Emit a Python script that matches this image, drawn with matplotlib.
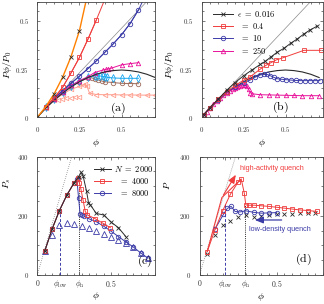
import matplotlib
matplotlib.use('Agg')
import matplotlib.pyplot as plt
from matplotlib.ticker import MultipleLocator

plt.rcParams['mathtext.fontset'] = 'cm'
plt.rcParams['font.family'] = 'serif'
plt.rcParams['font.serif'] = ['DejaVu Serif']

# ---------- panel (a) ----------
a_orange_x = [0, 0.05, 0.1, 0.15, 0.2, 0.25, 0.3]
a_orange_y = [0, 0.055, 0.122, 0.207, 0.314, 0.449, 0.645]
a_cross_x = [0, 0.1, 0.15, 0.2, 0.25]
a_cross_y = [0, 0.122, 0.207, 0.314, 0.449]
a_red_x = [0.05, 0.1, 0.15, 0.2, 0.25, 0.3, 0.35, 0.4]
a_red_y = [0.055, 0.1, 0.155, 0.23, 0.31, 0.404, 0.504, 0.61]
a_blue_x = [0.05, 0.1, 0.15, 0.2, 0.25, 0.3, 0.35, 0.4, 0.45, 0.5, 0.55, 0.6, 0.63]
a_blue_y = [0.055, 0.1, 0.138, 0.176, 0.213, 0.252, 0.292, 0.336, 0.38, 0.428, 0.485, 0.556, 0.61]
a_mag_x = [0.05, 0.1, 0.15, 0.2, 0.25, 0.3, 0.34, 0.39, 0.405, 0.42, 0.437, 0.5, 0.55, 0.6]
a_mag_y = [0.052, 0.095, 0.133, 0.165, 0.19, 0.21, 0.232, 0.245, 0.248, 0.25, 0.254, 0.272, 0.278, 0.283]
a_cyan_x = [0.05, 0.1, 0.15, 0.2, 0.25, 0.3, 0.342, 0.356, 0.372, 0.388, 0.401, 0.415, 0.45, 0.5, 0.55, 0.6]
a_cyan_y = [0.052, 0.094, 0.132, 0.163, 0.188, 0.207, 0.216, 0.215, 0.214, 0.212, 0.21, 0.207, 0.204, 0.202, 0.202, 0.202]
a_brown_x = [0.05, 0.1, 0.15, 0.2, 0.25, 0.3, 0.322, 0.342, 0.362, 0.382, 0.401, 0.45, 0.5, 0.55, 0.6]
a_brown_y = [0.052, 0.093, 0.13, 0.16, 0.185, 0.203, 0.205, 0.198, 0.193, 0.188, 0.184, 0.18, 0.176, 0.175, 0.174]
a_salmon_x = [0.05, 0.1, 0.15, 0.2, 0.25, 0.27, 0.285, 0.295, 0.31, 0.35, 0.4, 0.45, 0.5, 0.55, 0.6, 0.65, 0.7]
a_salmon_y = [0.05, 0.088, 0.12, 0.145, 0.16, 0.165, 0.172, 0.16, 0.125, 0.118, 0.117, 0.117, 0.116, 0.116, 0.115, 0.115, 0.115]
a_salmon2_x = [0.12, 0.146, 0.172, 0.198, 0.224, 0.25]
a_salmon2_y = [0.092, 0.096, 0.098, 0.1, 0.103, 0.106]
curve_x = [0, 0.05, 0.1, 0.15, 0.2, 0.25, 0.3, 0.35, 0.4, 0.45, 0.5, 0.55, 0.6, 0.65, 0.7]
curve_y = [0, 0.047, 0.088, 0.125, 0.157, 0.184, 0.206, 0.223, 0.235, 0.242, 0.245, 0.242, 0.235, 0.223, 0.206]
thin_x = [0, 0.72]
thin_y = [0, 0.665]

# ---------- panel (b) ----------
b_eps_labels = [r'$\epsilon\ =\ 0.016$', r'$\;\,=\ 0.4$', r'$\;\,=\ 10$', r'$\;\,=\ 250$']
b_k_x = [0.013, 0.05, 0.1, 0.15, 0.2, 0.25, 0.3, 0.35, 0.38, 0.415, 0.45, 0.49, 0.53, 0.57, 0.61, 0.645, 0.69]
b_k_y = [0.013, 0.05, 0.095, 0.14, 0.18, 0.215, 0.245, 0.274, 0.29, 0.314, 0.337, 0.357, 0.383, 0.406, 0.432, 0.452, 0.473]
b_r_x = [0.013, 0.05, 0.1, 0.15, 0.2, 0.25, 0.29, 0.35, 0.385, 0.413, 0.444, 0.483, 0.61, 0.71]
b_r_y = [0.013, 0.05, 0.093, 0.133, 0.165, 0.192, 0.21, 0.25, 0.27, 0.283, 0.297, 0.308, 0.347, 0.347]
b_b_x = [0.013, 0.05, 0.1, 0.15, 0.2, 0.25, 0.29, 0.318, 0.348, 0.37, 0.39, 0.41, 0.43, 0.45, 0.477, 0.5,
         0.53, 0.56, 0.586, 0.615, 0.646, 0.675, 0.705]
b_b_y = [0.013, 0.05, 0.092, 0.13, 0.158, 0.178, 0.193, 0.207, 0.219, 0.222, 0.222, 0.215, 0.207, 0.2, 0.197,
         0.195, 0.193, 0.191, 0.19, 0.19, 0.19, 0.19, 0.19]
b_m_x = [0.013, 0.03, 0.05, 0.07, 0.09, 0.11, 0.13, 0.15, 0.17, 0.19, 0.2, 0.21, 0.22, 0.23, 0.24, 0.25,
         0.26, 0.27, 0.28, 0.29, 0.3, 0.35, 0.4, 0.45, 0.5, 0.55, 0.6, 0.65, 0.7]
b_m_y = [0.013, 0.03, 0.05, 0.068, 0.085, 0.1, 0.113, 0.125, 0.137, 0.147, 0.152, 0.156, 0.16, 0.164, 0.167,
         0.168, 0.166, 0.16, 0.145, 0.128, 0.122, 0.117, 0.116, 0.115, 0.114, 0.113, 0.112, 0.112, 0.112]

# ---------- panel (c) ----------
c_N_labels = [r'$N\ =\ 2000$', r'$\;\;\,=\ 4000$', r'$\;\;\,=\ 8000$']
c_2000_x = [0.05, 0.1, 0.15, 0.2, 0.25, 0.28, 0.297, 0.31, 0.334, 0.347, 0.36, 0.4, 0.45, 0.5, 0.55, 0.6]
c_2000_y = [80, 155, 218, 270, 312, 332, 347, 336, 283, 245, 237, 208, 203, 179, 160, 130]
c_4000_x = [0.05, 0.1, 0.15, 0.2, 0.25, 0.275, 0.285, 0.295, 0.31, 0.325, 0.34, 0.39, 0.445, 0.495]
c_4000_y = [80, 155, 218, 270, 312, 328, 312, 292, 254, 215, 203, 191, 175, 160]
c_8000_x = [0.05, 0.1, 0.15, 0.2, 0.25, 0.268, 0.28, 0.29, 0.3, 0.32, 0.35, 0.4, 0.45, 0.5, 0.55, 0.6, 0.65, 0.7, 0.75]
c_8000_y = [80, 155, 218, 270, 312, 324, 260, 207, 203, 198, 190, 180, 165, 148, 130, 112, 95, 75, 57]
c_tri_x = [0.05, 0.1, 0.15, 0.2, 0.25, 0.3, 0.35, 0.4, 0.45, 0.5, 0.55, 0.6, 0.65, 0.7, 0.75]
c_tri_y = [80, 136, 168, 176, 173, 167, 160, 150, 140, 130, 120, 107, 93, 75, 57]
c_phi_low, c_phi_n = 0.155, 0.286
c_low_top, c_n_top = 218, 338
dot_x = [0, 0.25]
dot_y = [0, 429]

# ---------- panel (d) ----------
d_red_x = [0.05, 0.1, 0.15, 0.2, 0.25, 0.27, 0.29, 0.3, 0.32, 0.355, 0.4, 0.45, 0.5, 0.55, 0.6, 0.65, 0.7, 0.76]
d_red_y = [79, 153, 217, 273, 314, 325, 277, 237, 236, 236, 234, 232, 229, 226, 223, 220, 218, 215]
d_blue_x = [0.1, 0.155, 0.18, 0.205, 0.23, 0.26, 0.3, 0.35, 0.4, 0.45, 0.5]
d_blue_y = [155, 205, 225, 232, 215, 213, 217, 212, 209, 210, 211]
d_k_x = [0.05, 0.1, 0.15, 0.2, 0.25, 0.3, 0.35, 0.4, 0.45, 0.5, 0.55, 0.6, 0.65, 0.7, 0.75]
d_k_y = [72, 134, 168, 183, 197, 202, 197, 200, 202, 205, 207, 207, 209, 208, 210]
d_path_x = [0.05, 0.145, 0.265]
d_path_y = [79, 262, 322]
d_hi_arrow = ((0.145, 262), (0.245, 347))
d_lo_arrow = ((0.55, 186), (0.34, 186))
d_phi_low, d_phi_n = 0.167, 0.297
d_low_top, d_n_top = 240, 238

orange = '#ff8000'
red = '#f03c3c'
blue = '#3c3ca8'
mag = '#e8129a'
cyan = '#1aa8f0'
brown = '#9c6b5b'
salmon = '#ff9e8e'
dark = '#2a2a2a'
thin = '#8a8a8a'

lw = 0.7
ms = 3.2
mew = 0.6
tick_fs = 5.0


def style(ax, xmaj, xlabs, ymaj, ylabs, xmin, ymin, xpad):
    ax.set_xticks(xmaj)
    ax.set_xticklabels(xlabs)
    ax.set_yticks(ymaj)
    ax.set_yticklabels(ylabs)
    ax.xaxis.set_minor_locator(MultipleLocator(xmin))
    ax.yaxis.set_minor_locator(MultipleLocator(ymin))
    ax.tick_params(which='both', direction='in', top=True, right=True,
                   labelsize=tick_fs, width=0.45, colors='#333333')
    ax.tick_params(which='major', length=2.4)
    ax.tick_params(which='minor', length=1.4)
    ax.tick_params(axis='x', pad=xpad)
    ax.tick_params(axis='y', pad=6.0)
    for s in ax.spines.values():
        s.set_linewidth(0.6)
        s.set_color('#444444')


def ser(ax, x, y, c, m, line=True, size=ms, **kw):
    ax.plot(x, y, color=c, lw=lw if line else 0, marker=m, ms=size,
            mfc='none', mec=c, mew=mew, **kw)


fig = plt.figure(figsize=(3.24, 3.04), dpi=100)
W, H = 324.0, 304.0
ax_a = fig.add_axes([37.3 / W, 1 - 117.3 / H, 118 / W, 115.8 / H])
ax_b = fig.add_axes([201.5 / W, 1 - 117.3 / H, 121 / W, 115.8 / H])
ax_c = fig.add_axes([37.3 / W, 1 - 275 / H, 118 / W, 118.3 / H])
ax_d = fig.add_axes([199.5 / W, 1 - 275 / H, 123.5 / W, 118.3 / H])

# (a)
ax = ax_a
ax.plot(thin_x, thin_y, color=thin, lw=0.5)
ser(ax, a_salmon_x, a_salmon_y, salmon, '<')
ser(ax, a_salmon2_x, a_salmon2_y, salmon, '<', line=False)
ser(ax, a_brown_x, a_brown_y, brown, 'o')
ser(ax, a_cyan_x, a_cyan_y, cyan, 'd', size=3.6)
ser(ax, a_mag_x, a_mag_y, mag, '^')
ax.plot(curve_x, curve_y, color=dark, lw=0.8)
ser(ax, a_blue_x[:-1], a_blue_y[:-1], blue, 'o')
ax.plot(a_blue_x, a_blue_y, color=blue, lw=lw)
ser(ax, a_red_x[:-1], a_red_y[:-1], red, 's')
ax.plot(a_red_x, a_red_y, color=red, lw=lw)
ax.plot(a_orange_x, a_orange_y, color=orange, lw=1.0)
ax.plot(a_cross_x, a_cross_y, ls='none', marker='x', ms=ms, mew=mew, color=dark)
ax.set_xlim(0, 0.7)
ax.set_ylim(0, 0.6)
style(ax, [0, 0.25, 0.5], [r'$0$', r'$0.25$', r'$0.5$'],
      [0, 0.25, 0.5], [r'$0$', r'$0.25$', r'$0.5$'], 0.05, 0.05, 5.5)
ax.text(0.684, 0.08, r'$\mathrm{(a)}$', transform=ax.transAxes, fontsize=8.5, ha='center', va='center')

# (b)
ax = ax_b
ax.plot(thin_x, thin_y, color=thin, lw=0.5)
ax.plot(curve_x, curve_y, color=dark, lw=0.8)
ser(ax, b_m_x, b_m_y, mag, '^', label=b_eps_labels[3])
ser(ax, b_b_x, b_b_y, blue, 'o', label=b_eps_labels[2])
ser(ax, b_r_x, b_r_y, red, 's', label=b_eps_labels[1])
ser(ax, b_k_x, b_k_y, dark, 'x', label=b_eps_labels[0])
ax.set_xlim(0, 0.72)
ax.set_ylim(0, 0.6)
style(ax, [0, 0.25, 0.5], [r'$0$', r'$0.25$', r'$0.5$'],
      [0, 0.25, 0.5], [r'$0$', r'$0.25$', r'$0.5$'], 0.05, 0.05, 5.5)
h, l = ax.get_legend_handles_labels()
ax.legend(h[::-1], l[::-1], loc='upper left', bbox_to_anchor=(0.04, 1.0), frameon=False,
          fontsize=6, handlelength=2.4, handletextpad=0.4, labelspacing=0.25, borderpad=0.35)
ax.text(0.649, 0.085, r'$\mathrm{(b)}$', transform=ax.transAxes, fontsize=8.5, ha='center', va='center')

for ax in (ax_a, ax_b):
    ax.set_xlabel(r'$\phi$', fontsize=7)
    ax.set_ylabel(r'$P\phi/P_0$', fontsize=7)
    ax.xaxis.label.set_va('center')
    ax.yaxis.label.set_va('center')
    ax.xaxis.set_label_coords(0.5, -0.225)
ax_a.yaxis.set_label_coords(-0.255, 0.45)
ax_b.yaxis.set_label_coords(-0.265, 0.45)

# (c)
ax = ax_c
ax.plot(dot_x, dot_y, color=thin, lw=0.6, ls=(0, (1, 1.5)))
ax.plot([c_phi_low, c_phi_low], [0, c_low_top], color=blue, lw=0.7, ls=(0, (3, 2)))
ax.plot([c_phi_n, c_phi_n], [0, c_n_top], color=dark, lw=0.7, ls=(0, (1, 1.2)))
ser(ax, c_tri_x, c_tri_y, blue, '^', line=False, size=4.4)
ser(ax, c_8000_x, c_8000_y, blue, 'o', label=c_N_labels[2])
ser(ax, c_4000_x, c_4000_y, red, 's', label=c_N_labels[1])
ser(ax, c_2000_x, c_2000_y, dark, 'x', label=c_N_labels[0])
ax.set_xlim(0, 0.8)
ax.set_ylim(0, 400)
style(ax, [0, c_phi_low, c_phi_n, 0.5], [r'$0$', r'$\phi_{\rm low}$', r'$\phi_{\rm n}$', r'$0.5$'],
      [0, 200, 400], [r'$0$', r'$200$', r'$400$'], 0.05, 50, 2.5)
ax.tick_params(axis='x', labelsize=5.6)
h, l = ax.get_legend_handles_labels()
ax.legend(h[::-1], l[::-1], loc='upper left', bbox_to_anchor=(0.42, 1.0), frameon=False,
          fontsize=6, handlelength=2.0, handletextpad=0.4, labelspacing=0.25, borderpad=0.35)
ax.text(0.913, 0.115, r'$\mathrm{(c)}$', transform=ax.transAxes, fontsize=8.5, ha='center', va='center')
ax.set_ylabel(r'$P_s$', fontsize=7)

# (d)
ax = ax_d
ax.plot(dot_x, dot_y, color=thin, lw=0.6, ls=(0, (1, 1.5)))
ax.plot([d_phi_low, d_phi_low], [0, d_low_top], color=blue, lw=0.7, ls=(0, (3, 2)))
ax.plot([d_phi_n, d_phi_n], [0, d_n_top], color=dark, lw=0.7, ls=(0, (1, 1.2)))
ser(ax, d_k_x, d_k_y, dark, 'x', line=False)
ax.plot(d_path_x, d_path_y, color=red, lw=0.8)
ax.annotate('', xy=d_hi_arrow[1], xytext=d_hi_arrow[0],
            arrowprops=dict(arrowstyle='-|>,head_length=0.5,head_width=0.2', color=red, lw=0.8))
ser(ax, d_blue_x, d_blue_y, blue, 'o')
ser(ax, d_red_x, d_red_y, red, 's', size=3.5)
ax.annotate('', xy=d_lo_arrow[1], xytext=d_lo_arrow[0],
            arrowprops=dict(arrowstyle='-|>,head_length=0.5,head_width=0.2', color=blue, lw=0.9))
ax.text(0.262, 360, 'high-activity quench', color=red, fontsize=5.2, family='Liberation Sans',
        ha='left', va='center')
ax.text(0.318, 155, 'low-density quench', color=blue, fontsize=5.2, family='Liberation Sans',
        ha='left', va='center')
ax.set_xlim(0, 0.8)
ax.set_ylim(0, 400)
style(ax, [0, d_phi_low, d_phi_n, 0.5], [r'$0$', r'$\phi_{\rm low}$', r'$\phi_{\rm n}$', r'$0.5$'],
      [0, 200, 400], [r'$0$', r'$200$', r'$400$'], 0.05, 50, 2.5)
ax.tick_params(axis='x', labelsize=5.6)
ax.text(0.844, 0.13, r'$\mathrm{(d)}$', transform=ax.transAxes, fontsize=8.5, ha='center', va='center')
ax.set_ylabel(r'$P$', fontsize=7)

for ax in (ax_c, ax_d):
    ax.set_xlabel(r'$\phi$', fontsize=7)
    ax.xaxis.label.set_va('center')
    ax.yaxis.label.set_va('center')
ax_c.xaxis.set_label_coords(0.5, -0.178)
ax_d.xaxis.set_label_coords(0.5, -0.19)
ax_c.yaxis.set_label_coords(-0.257, 0.77)
ax_d.yaxis.set_label_coords(-0.263, 0.76)

fig.savefig('out.png', dpi=100)
